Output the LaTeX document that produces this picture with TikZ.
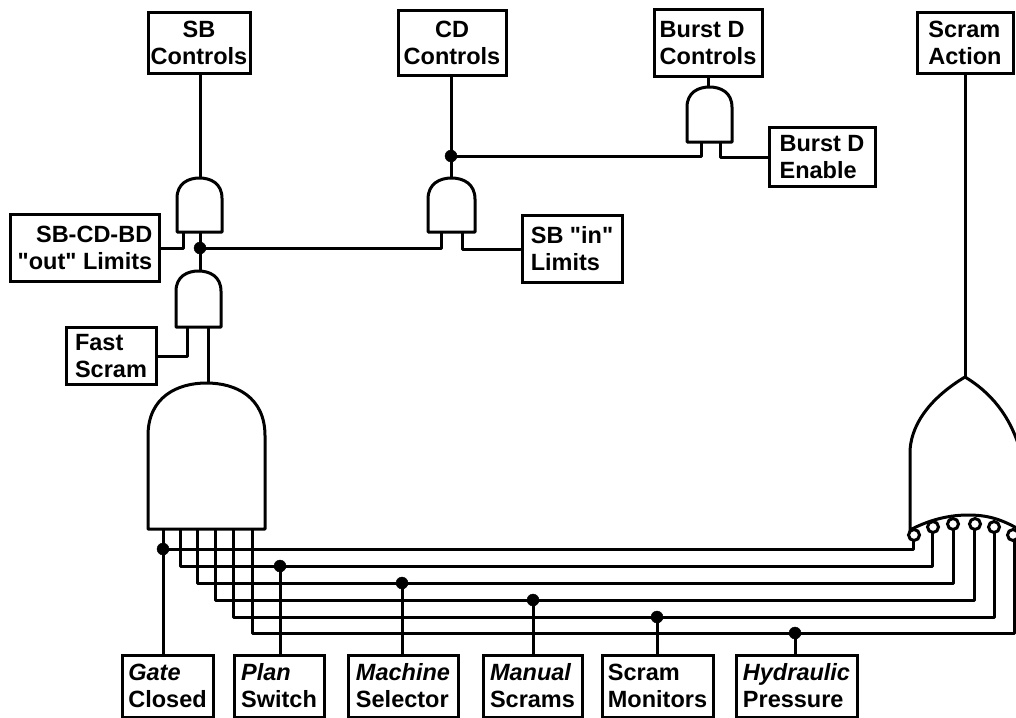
\documentclass[tikz,border=0pt]{standalone}
\usepackage{fontspec}
\newfontfamily\lab{Liberation Sans}
\tikzset{
  every picture/.style={x=1pt,y=-1pt},
  wire/.style={line width=3pt,line cap=round,line join=round},
  labelbox/.style={draw,line width=3pt,inner sep=0pt,align=left,font=\lab\bfseries\fontsize{23.5}{27}\selectfont},
  gate/.style={line width=3pt,line join=round,fill=white},
  dot/.style={circle,fill=black,draw=black,inner sep=0pt,minimum size=12pt},
  bubble/.style={circle,fill=white,draw=black,line width=3pt,inner sep=0pt,minimum size=11pt}
}
\newcommand{\boxat}[6]{\node[labelbox,minimum width=#4pt,minimum height=#5pt] (#1) at (#2,#3) {#6};}
\newcommand{\andgate}[4]{% left right top bottom
  \pgfmathsetmacro{\gm}{(#1+#2)/2}
  \pgfmathsetmacro{\gs}{#3+(#2-#1)*0.45}
  \draw[gate] (#1,#4) -- (#1,\gs) .. controls (#1,{#3+(#2-#1)*0.12}) and ({\gm-(#2-#1)*0.25},#3) .. (\gm,#3)
    .. controls ({\gm+(#2-#1)*0.25},#3) and (#2,{#3+(#2-#1)*0.12}) .. (#2,\gs) -- (#2,#4) -- cycle;}
\begin{document}
\begin{tikzpicture}
\useasboundingbox (0,0) rectangle (1016,717);
\fill[white] (0,0) rectangle (1016,717);
\clip (0,0) rectangle (1016,717);

% top boxes
\node[labelbox,align=center,minimum width=102pt,minimum height=60pt] (sbc) at (199,43) {SB\\Controls};
\node[labelbox,align=center,minimum width=108pt,minimum height=64pt] (cdc) at (452,43) {CD\\Controls};
\boxat{bdc}{708}{43}{108}{66}{Burst D\\Controls}
\boxat{sca}{965}{43}{96}{60}{Scram\\Action}
\boxat{bde}{822}{157}{106}{59}{Burst D\\Enable}
\boxat{sbi}{572}{249}{100}{67}{SB "in"\\Limits}
\node[labelbox,align=right,minimum width=149pt,minimum height=67pt] (sbo) at (85,248) {SB-CD-BD\\"out" Limits};
\boxat{fsc}{111}{356}{90}{57}{Fast\\Scram}
% bottom boxes
\boxat{gcl}{167.5}{686}{91}{62}{{\itshape Gate}\\Closed}
\boxat{psw}{279}{686}{90}{62}{{\itshape Plan}\\Switch}
\boxat{msl}{403}{686}{110}{62}{{\itshape Machine}\\Selector}
\boxat{mns}{532.5}{686}{99}{62}{{\itshape Manual}\\Scrams}
\boxat{smn}{657.5}{686}{111}{62}{Scram\\Monitors}
\boxat{hyd}{796.5}{686}{121}{62}{{\itshape Hydraulic}\\Pressure}

% junctions
\coordinate (j1) at (200,248);
\coordinate (j2) at (451,156);
\node[dot] (d1) at (j1) {};
\node[dot] (d2) at (j2) {};
\node[dot] (dg) at (163,549) {};
\node[dot] (dp) at (280,566) {};
\node[dot] (dm) at (402,583) {};
\node[dot] (dn) at (533,600) {};
\node[dot] (ds) at (657,617) {};
\node[dot] (dh) at (795,633) {};

% wires
\draw[wire] (sbc.south -| d1) -- (200,178);
\draw[wire] (200,232) -- (d1.center) -- (200,271);
\draw[wire] (183,232) |- (sbo.east);
\draw[wire] (d1.center) -| (441,232);
\draw[wire] (462,232) |- (sbi.west);
\draw[wire] (cdc.south -| d2) -- (451,178);
\draw[wire] (d2.center) -| (701,142);
\draw[wire] (720,142) |- (bde.west);
\draw[wire] (bdc.south) -- (708,87);
\draw[wire] (187,327) |- (fsc.east);
\draw[wire] (208,327) -- (208,383);
\draw[wire] (sca.south) -- (965,377);

\draw[wire] (163,530) -- (gcl.north -| dg);
\draw[wire] (dg.center) -| (913,535);
\draw[wire] (180,530) |- (566,566) -| (932,527);
\draw[wire] (197,530) |- (583,583) -| (953,524);
\draw[wire] (215,530) |- (600,600) -| (974,524);
\draw[wire] (233,530) |- (617,617) -| (994,527);
\draw[wire] (252,530) |- (795,633) -| (1014,535);
\draw[wire] (dp.center) -- (psw.north -| dp);
\draw[wire] (dm.center) -- (msl.north -| dm);
\draw[wire] (dn.center) -- (mns.north -| dn);
\draw[wire] (ds.center) -- (smn.north -| ds);
\draw[wire] (dh.center) -- (hyd.north -| dh);

% gates
\andgate{177}{222}{178}{232}
\andgate{176}{221}{271}{327}
\andgate{428}{475}{178}{232}
\andgate{687}{732}{87}{142}
\andgate{148}{265}{383}{529}

% or gate (runs off the right edge)
\draw[gate] (910,538) -- (910,450) .. controls (912,420) and (935,395) .. (965,377)
  .. controls (990,392) and (1010,415) .. (1020,450) -- (1020,530)
  .. controls (1000,518) and (985,515) .. (968,515) .. controls (945,515) and (925,522) .. (910,530);
\node[bubble] (b1) at (914,535) {};
\node[bubble] (b2) at (933,527) {};
\node[bubble] (b3) at (953,524) {};
\node[bubble] (b4) at (975,524) {};
\node[bubble] (b5) at (994,527) {};
\node[bubble] (b6) at (1013,535) {};
\end{tikzpicture}
\end{document}
